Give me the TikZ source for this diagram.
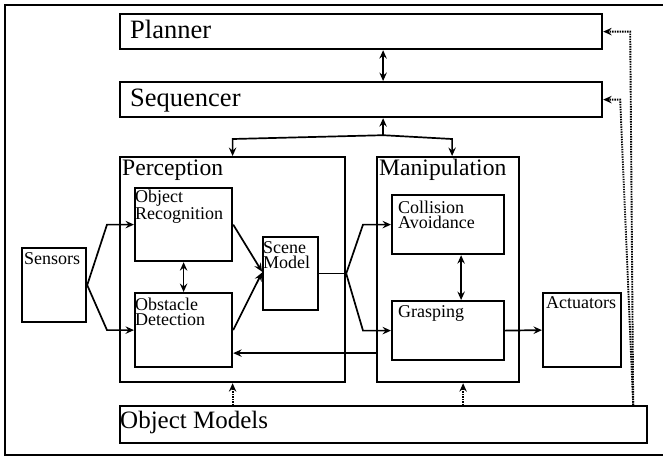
\documentclass[tikz,border=0pt]{standalone}
\usepackage{fontspec}
\setmainfont{Liberation Serif}
\usetikzlibrary{arrows.meta,calc}

\tikzset{
  box/.style={draw, line width=2.2pt, inner sep=0pt, anchor=north west},
  lbl/.style={anchor=base west, inner sep=0pt, align=left},
  big/.style={font=\fontsize{26.5}{28}\selectfont},
  mid/.style={font=\fontsize{23.6}{25}\selectfont},
  small/.style={font=\fontsize{18}{15}\selectfont},
  tip/.tip={Stealth[length=8.5pt,width=7.5pt,inset=3pt]},
  arr/.style={-tip, line width=1.7pt},
  darr/.style={tip-tip, line width=1.7pt},
  dotarr/.style={-tip, line width=1.9pt, dash pattern=on 1.4pt off 1.1pt},
}

\begin{document}
\begin{tikzpicture}[x=1pt, y=-1pt]
\useasboundingbox (0,0) rectangle (663,456);
\clip (0,0) rectangle (663,456);

% outer frame (its right side runs past the page edge)
\draw[line width=1.8pt] (5,5) rectangle (670,455);

% boxes
\node[box, minimum width=482pt, minimum height=35pt] (planner)      at (119,13)  {};
\node[box, minimum width=482pt, minimum height=35pt] (sequencer)    at (119,81)  {};
\node[box, minimum width=225pt, minimum height=225pt] (perception)  at (119,156) {};
\node[box, minimum width=142pt, minimum height=225pt] (manipulation) at (376,156) {};
\node[box, minimum width=97pt,  minimum height=73pt] (objrec)       at (134,187) {};
\node[box, minimum width=97pt,  minimum height=74pt] (obsdet)       at (134,292) {};
\node[box, minimum width=55pt,  minimum height=73pt] (scene)        at (262,236) {};
\node[box, minimum width=64pt,  minimum height=74pt] (sensors)      at (21,247)  {};
\node[box, minimum width=112pt, minimum height=59pt] (collision)    at (391,194) {};
\node[box, minimum width=112pt, minimum height=59pt] (grasping)     at (391,300) {};
\node[box, minimum width=78pt,  minimum height=74pt] (actuators)    at (542,292) {};
\node[box, minimum width=527pt, minimum height=37pt] (objmodels)    at (119,405) {};

% labels (a two-line label is placed by the baseline of its last line)
\node[lbl, big] (plannerlbl)   at ([shift={(11,25)}]planner.north west) {Planner};
\node[lbl, big] (sequencerlbl) at ([shift={(11,25)}]sequencer.north west) {Sequencer};
\node[lbl, mid] (perceptionlbl) at ([shift={(3,19)}]perception.north west) {Perception};
\node[lbl, mid] (manipulationlbl) at ([shift={(3,19)}]manipulation.north west) {Manipulation};
\node[lbl, small] (objreclbl)  at ([shift={(1,32)}]objrec.north west) {Object\\Recognition};
\node[lbl, small] (obsdetlbl)  at ([shift={(1,33)}]obsdet.north west) {Obstacle\\Detection};
\node[lbl, small] (scenelbl)   at ([shift={(1,32)}]scene.north west) {Scene\\Model};
\node[lbl, small] (sensorslbl) at ([shift={(3,17)}]sensors.north west) {Sensors};
\node[lbl, small] (collisionlbl) at ([shift={(7,34)}]collision.north west) {Collision\\Avoidance};
\node[lbl, small] (graspinglbl) at ([shift={(7,17)}]grasping.north west) {Grasping};
\node[lbl, small] (actuatorslbl) at ([shift={(4,16)}]actuators.north west) {Actuators};
\node[lbl, font=\fontsize{25}{26}\selectfont] (objmodelslbl) at ([shift={(1,23)}]objmodels.north west) {Object Models};

% planner <-> sequencer
\draw[darr] ([xshift=22pt]planner.south) -- ([xshift=22pt]sequencer.north);

% sequencer to both subsystems
\coordinate (fork) at ([shift={(22,17)}]sequencer.south);
\draw[arr] (fork) -- ([xshift=22pt]sequencer.south);
\draw[arr] (fork) -- ([yshift=17pt]perception.north) -- (perception.north);
\draw[arr] (fork) -- ([shift={(4,-17)}]manipulation.north) -- ([xshift=4pt]manipulation.north);

% sensors into perception
\draw[arr] (sensors.east) -- ([xshift=-27pt]objrec.west) -- (objrec.west);
\draw[arr] (sensors.east) -- ([xshift=-27pt]obsdet.west) -- (obsdet.west);
\draw[darr] (objrec.south) -- (obsdet.north);

% perception into scene model
\draw[arr] (objrec.east) -- ([yshift=2pt]scene.west);
\draw[arr] (obsdet.east) -- ([yshift=1pt]scene.west);

% scene model into manipulation
\coordinate (split) at (scene.east -| perception.east);
\draw[line width=1.7pt] (scene.east) -- (split);
\draw[arr] (split) -- ([xshift=-28pt]collision.west) -- (collision.west);
\draw[arr] (split) -- ([xshift=-28pt]grasping.west) -- (grasping.west);
\draw[darr] ([xshift=13pt]collision.south) -- ([xshift=13pt]grasping.north);
\draw[arr] (grasping.east) -- (actuators.west);

% feedback from manipulation to obstacle detection
\coordinate (fb) at ([yshift=-23pt]obsdet.east);
\draw[arr] (fb -| manipulation.west) -- (fb);

% object models
\draw[dotarr] (objmodels.north -| perception.south) -- (perception.south);
\draw[dotarr] ([xshift=15pt]objmodels.north -| manipulation.south) -- ([xshift=15pt]manipulation.south);
\coordinate (omtap) at ([xshift=-15pt]objmodels.north east);
\draw[dotarr] (omtap) -- ([xshift=27pt]planner.east) -- (planner.east);
\draw[dotarr] (omtap) -- ([xshift=17pt]sequencer.east) -- (sequencer.east);
\end{tikzpicture}
\end{document}
